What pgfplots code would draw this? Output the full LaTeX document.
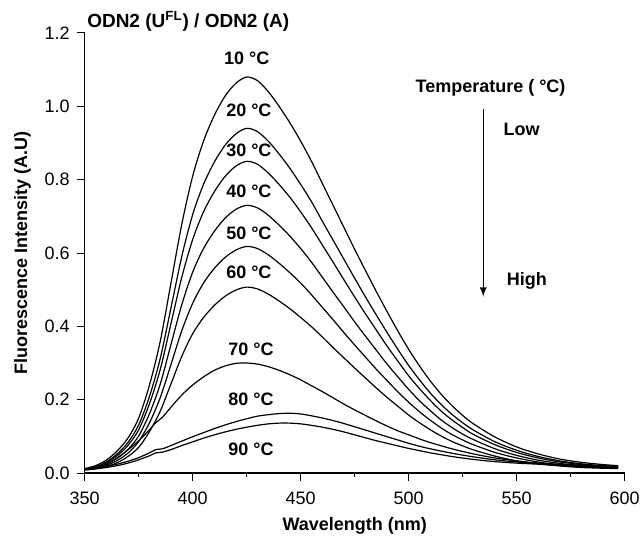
\documentclass[border=0pt]{standalone}
\usepackage{pgfplots}
\pgfplotsset{compat=1.18}
\usepackage{pgfplotstable}
\usepackage{fontspec}
\setmainfont{Liberation Sans}

% spectra, 10-60 degC
\pgfplotstableread{
x   t10   t20   t30   t40   t50   t60
350 0.012 0.011 0.011 0.010 0.010 0.009
355 0.020 0.017 0.016 0.014 0.013 0.012
360 0.035 0.030 0.028 0.024 0.021 0.018
365 0.060 0.052 0.047 0.041 0.034 0.028
370 0.095 0.083 0.075 0.064 0.054 0.045
375 0.150 0.131 0.118 0.101 0.086 0.070
380 0.240 0.209 0.189 0.162 0.137 0.113
385 0.360 0.313 0.283 0.243 0.206 0.169
390 0.520 0.452 0.409 0.352 0.297 0.244
395 0.680 0.592 0.535 0.460 0.389 0.319
400 0.810 0.705 0.637 0.548 0.463 0.380
405 0.905 0.787 0.712 0.612 0.518 0.424
410 0.975 0.848 0.767 0.659 0.558 0.457
415 1.028 0.894 0.809 0.695 0.588 0.482
420 1.063 0.925 0.837 0.719 0.608 0.499
425 1.080 0.940 0.850 0.730 0.618 0.507
430 1.070 0.931 0.842 0.723 0.612 0.502
435 1.040 0.905 0.818 0.703 0.595 0.488
440 1.000 0.870 0.787 0.676 0.572 0.469
445 0.955 0.831 0.752 0.646 0.546 0.448
450 0.905 0.787 0.712 0.612 0.518 0.424
455 0.850 0.740 0.669 0.575 0.486 0.399
460 0.790 0.687 0.622 0.534 0.452 0.371
465 0.730 0.635 0.575 0.493 0.418 0.342
470 0.670 0.583 0.527 0.453 0.383 0.314
475 0.610 0.531 0.480 0.412 0.349 0.286
480 0.552 0.480 0.434 0.373 0.316 0.259
485 0.495 0.431 0.390 0.335 0.283 0.232
490 0.440 0.383 0.346 0.297 0.252 0.206
495 0.387 0.337 0.305 0.262 0.221 0.182
500 0.337 0.293 0.265 0.228 0.193 0.158
505 0.292 0.254 0.230 0.197 0.167 0.137
510 0.251 0.218 0.198 0.170 0.144 0.118
515 0.215 0.187 0.169 0.145 0.123 0.101
520 0.184 0.160 0.145 0.124 0.105 0.086
525 0.157 0.137 0.124 0.106 0.090 0.074
530 0.134 0.117 0.105 0.091 0.077 0.063
540 0.098 0.085 0.077 0.066 0.056 0.046
550 0.071 0.062 0.056 0.048 0.041 0.033
560 0.052 0.045 0.041 0.035 0.030 0.025
570 0.038 0.033 0.030 0.026 0.022 0.019
580 0.029 0.025 0.023 0.020 0.017 0.015
590 0.023 0.020 0.018 0.016 0.014 0.013
597 0.020 0.018 0.016 0.015 0.013 0.012
}\lowT

% spectra, 70-90 degC
\pgfplotstableread{
x   t70   t80   t90
350 0.010 0.010 0.008
355 0.014 0.013 0.011
360 0.024 0.018 0.015
365 0.040 0.024 0.020
370 0.063 0.032 0.027
375 0.088 0.042 0.036
380 0.118 0.055 0.047
383 0.138 0.064 0.055
386 0.152 0.066 0.057
390 0.180 0.075 0.064
395 0.213 0.087 0.075
400 0.240 0.099 0.085
405 0.262 0.110 0.095
410 0.280 0.121 0.104
415 0.292 0.131 0.112
420 0.299 0.140 0.119
425 0.300 0.148 0.125
430 0.297 0.155 0.130
435 0.290 0.159 0.134
440 0.280 0.162 0.136
445 0.268 0.163 0.136
450 0.254 0.161 0.134
455 0.238 0.156 0.130
460 0.222 0.150 0.125
465 0.205 0.143 0.119
470 0.188 0.135 0.112
475 0.172 0.126 0.104
480 0.157 0.117 0.096
485 0.142 0.108 0.088
490 0.128 0.099 0.081
495 0.115 0.090 0.074
500 0.104 0.081 0.067
505 0.093 0.073 0.061
510 0.083 0.066 0.055
520 0.066 0.054 0.045
530 0.052 0.044 0.037
540 0.041 0.036 0.031
550 0.033 0.030 0.027
560 0.027 0.026 0.024
570 0.023 0.023 0.021
580 0.020 0.021 0.019
590 0.018 0.019 0.018
597 0.017 0.018 0.017
}\highT

\begin{document}
\begin{tikzpicture}
\begin{axis}[
    scale only axis,
    width=270pt,
    height=220pt,
    xmin=350, xmax=600,
    ymin=0, ymax=1.2,
    xtick={350,400,...,600},
    ytick={0,0.2,...,1.2},
    minor x tick num=1,
    axis x line*=bottom,
    axis y line*=left,
    tick align=outside,
    major tick length=4pt,
    minor tick length=2pt,
    every tick/.style={black, line width=0.5pt},
    axis line style={line width=0.6pt},
    tick label style={font=\fontsize{9}{11}\selectfont},
    xticklabel style={yshift=-2pt},
    /pgf/number format/assume math mode=true,
    yticklabel style={/pgf/number format/fixed, /pgf/number format/fixed zerofill, /pgf/number format/precision=1},
    label style={font=\fontsize{9}{11}\selectfont\bfseries},
    xlabel={Wavelength (nm)},
    xlabel style={yshift=0.5pt},
    ylabel={Fluorescence Intensity (A.U)},
    clip=false,
]
\addplot[black, line width=0.6pt, smooth] table[x=x, y=t10] {\lowT};
\addplot[black, line width=0.6pt, smooth] table[x=x, y=t20] {\lowT};
\addplot[black, line width=0.6pt, smooth] table[x=x, y=t30] {\lowT};
\addplot[black, line width=0.6pt, smooth] table[x=x, y=t40] {\lowT};
\addplot[black, line width=0.6pt, smooth] table[x=x, y=t50] {\lowT};
\addplot[black, line width=0.6pt, smooth] table[x=x, y=t60] {\lowT};
\addplot[black, line width=0.6pt, smooth] table[x=x, y=t70] {\highT};
\addplot[black, line width=0.6pt, smooth] table[x=x, y=t80] {\highT};
\addplot[black, line width=0.6pt, smooth] table[x=x, y=t90] {\highT};

\begin{scope}[every node/.style={font=\fontsize{9}{11}\selectfont\bfseries}]
\node at (axis cs:425,1.132) {10 °C};
\node at (axis cs:426,0.990) {20 °C};
\node at (axis cs:426,0.880) {30 °C};
\node at (axis cs:426,0.768) {40 °C};
\node at (axis cs:426,0.654) {50 °C};
\node at (axis cs:426,0.547) {60 °C};
\node at (axis cs:427,0.336) {70 °C};
\node at (axis cs:427,0.201) {80 °C};
\node at (axis cs:427,0.065) {90 °C};
\node at (axis cs:537.9,1.050) {Temperature ( °C)};
\node[anchor=west] at (axis cs:540.7,0.938) {Low};
\node[anchor=west] at (axis cs:542.2,0.525) {High};
\node[anchor=west, inner sep=0pt, font=\fontsize{9.5}{11}\selectfont\bfseries] at (axis cs:351,1.232) {ODN2 (U\textsuperscript{FL}) / ODN2 (A)};
\end{scope}
\draw[-latex, line width=0.6pt] (axis cs:534.5,0.993) -- (axis cs:534.5,0.481);
\end{axis}
\pgfresetboundingbox
\path ([shift={(-42.35pt,-31.5pt)}]current axis.south west) rectangle ([shift={(8.65pt,16.5pt)}]current axis.north east);
\end{tikzpicture}
\end{document}
